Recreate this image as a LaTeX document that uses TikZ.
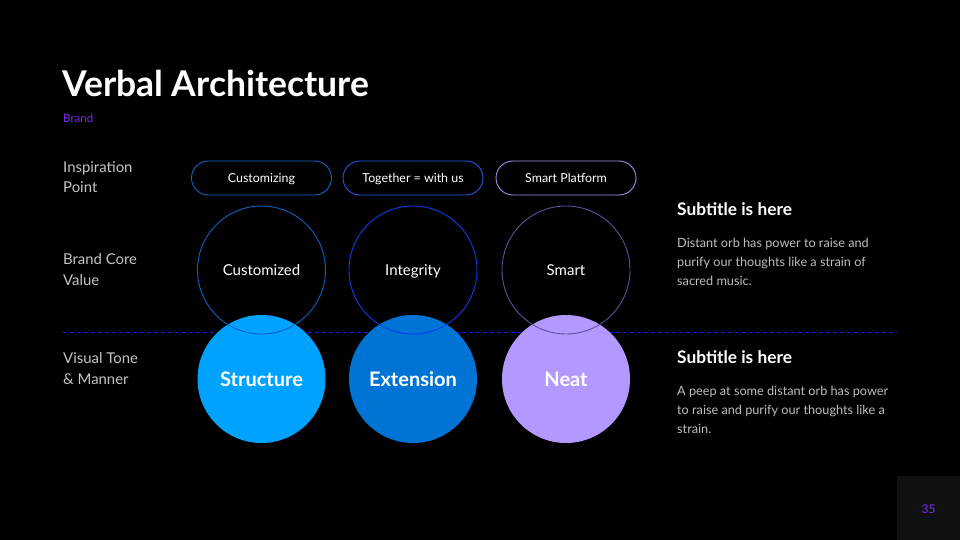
\documentclass[tikz,border=0pt]{standalone}
\usepackage{fontspec}
\setmainfont{Lato}
\definecolor{bg}{HTML}{000000}
\definecolor{brandpurple}{HTML}{7B2CF2}
\definecolor{labelgray}{HTML}{C4C4C4}
\definecolor{paragray}{HTML}{BDBDBD}
\definecolor{pillA}{HTML}{0A68C8}
\definecolor{pillB}{HTML}{1E5AE6}
\definecolor{pillC}{HTML}{A58CF0}
\definecolor{ringA}{HTML}{0B62C0}
\definecolor{ringB}{HTML}{0A3EE6}
\definecolor{ringC}{HTML}{5E4F9A}
\definecolor{fillA}{HTML}{00A2FF}
\definecolor{fillB}{HTML}{0074D4}
\definecolor{fillC}{HTML}{B399FF}
\definecolor{dashblue}{HTML}{1A1AE6}
\definecolor{pagebox}{HTML}{111111}
\begin{document}
\begin{tikzpicture}[x=1pt,y=-1pt,
  rowlabel/.style={anchor=base west,text=labelgray,font=\fontsize{14.9}{21}\selectfont,inner sep=0pt},
  pill/.style={draw,line width=0.9pt,rounded corners=17pt,minimum width=140pt,minimum height=34pt,text=white,font=\fontsize{12.4}{14}\selectfont,inner sep=0pt,text height=9pt,text depth=0pt},
  ring/.style={circle,draw,line width=0.9pt,minimum size=128pt,inner sep=0pt,text=white,font=\fontsize{15}{16}\selectfont,text height=10.8pt,text depth=0pt},
  orb/.style={circle,minimum size=128pt,inner sep=0pt,text=white,font=\bfseries\fontsize{20}{22}\selectfont,text height=14.4pt,text depth=0pt},
  subt/.style={anchor=base west,text=white,font=\bfseries\fontsize{17.3}{18}\selectfont,inner sep=0pt},
  para/.style={anchor=base west,text=paragray,font=\fontsize{12.7}{19}\selectfont,inner sep=0pt}]
\fill[bg] (0,0) rectangle (960,540);
\useasboundingbox (0,0) rectangle (960,540);

% title
\node[anchor=base west,text=white,font=\bfseries\fontsize{35.5}{38}\selectfont,inner sep=0pt] (title) at (62,97) {Verbal Architecture};
\node[anchor=base west,text=brandpurple,font=\fontsize{11.5}{13}\selectfont,inner sep=0pt] (brand) at (63,123) {Brand};

% row labels
\node[rowlabel] (lab1a) at (63,172) {Inspiration};
\node[rowlabel] (lab1b) at (63,193) {Point};
\node[rowlabel] (lab2a) at (63,264) {Brand Core};
\node[rowlabel] (lab2b) at (63,285) {Value};
\node[rowlabel] (lab3a) at (63,363) {Visual Tone};
\node[rowlabel] (lab3b) at (63,384) {\& Manner};

% dashed divider
\coordinate (dl) at (63,332);
\coordinate (dr) at (897,332);
\draw[dashblue,line width=0.9pt,dash pattern=on 4pt off 3pt] (dl) -- (dr);

% pills
\node[pill,draw=pillA] (p1) at (261.5,178) {Customizing};
\node[pill,draw=pillB] (p2) at (413,178) {Together = with us};
\node[pill,draw=pillC] (p3) at (566,178) {Smart Platform};

% filled orbs
\node[orb,fill=fillA] (o1) at (261.5,379) {Structure};
\node[orb,fill=fillB] (o2) at (413,379) {Extension};
\node[orb,fill=fillC] (o3) at (566,379) {Neat};

% rings
\node[ring,draw=ringA] (r1) at (261.5,270) {Customized};
\node[ring,draw=ringB] (r2) at (413,270) {Integrity};
\node[ring,draw=ringC] (r3) at (566,270) {Smart};

% right texts
\node[subt] (s1) at (677,215) {Subtitle is here};
\node[para] (t1a) at (677,247) {Distant orb has power to raise and};
\node[para] (t1b) at (677,266) {purify our thoughts like a strain of};
\node[para] (t1c) at (677,285) {sacred music.};
\node[subt] (s2) at (677,363) {Subtitle is here};
\node[para] (t2a) at (677,395) {A peep at some distant orb has power};
\node[para] (t2b) at (677,414) {to raise and purify our thoughts like a};
\node[para] (t2c) at (677,433) {strain.};

% page number
\fill[pagebox] (897,476) rectangle (960,540);
\node[text=brandpurple,font=\fontsize{12}{14}\selectfont,inner sep=0pt] (pg) at (928.5,509) {35};
\end{tikzpicture}
\end{document}
